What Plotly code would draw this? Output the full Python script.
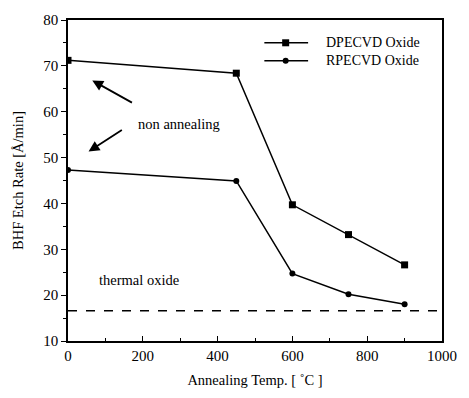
import plotly.graph_objects as go

# Annealing temperatures (°C) and BHF etch rates (Å/min)
temps = [0, 450, 600, 750, 900]
dpecvd_rate = [71.2, 68.4, 39.7, 33.2, 26.6]
rpecvd_rate = [47.3, 44.9, 24.7, 20.2, 18.0]
thermal_oxide_rate = 16.6

series_names = ["DPECVD Oxide", "RPECVD Oxide"]
x_ticks = [0, 200, 400, 600, 800, 1000]
y_ticks = [10, 20, 30, 40, 50, 60, 70, 80]

FONT = "Liberation Serif"
TXT = 14.5

fig = go.Figure()
fig.add_trace(go.Scatter(
    x=temps, y=dpecvd_rate, mode="lines+markers", name=series_names[0],
    line=dict(color="black", width=1.5),
    marker=dict(symbol="square", size=7, color="black"),
))
fig.add_trace(go.Scatter(
    x=temps, y=rpecvd_rate, mode="lines+markers", name=series_names[1],
    line=dict(color="black", width=1.5),
    marker=dict(symbol="circle", size=6, color="black"),
))
# thermal oxide reference level
fig.add_trace(go.Scatter(
    x=[0, 1000], y=[thermal_oxide_rate, thermal_oxide_rate], mode="lines",
    line=dict(color="black", width=1.3, dash="dash"),
))

fig.add_annotation(x=296, y=57.3, text="non annealing", showarrow=False,
                   font=dict(family=FONT, size=TXT, color="black"))
fig.add_annotation(x=65, y=66.8, ax=175, ay=61.8, axref="x", ayref="y",
                   text="", showarrow=True, arrowhead=2, arrowsize=1.2,
                   arrowwidth=1.8, arrowcolor="black")
fig.add_annotation(x=55, y=51.3, ax=148, ay=56.2, axref="x", ayref="y",
                   text="", showarrow=True, arrowhead=2, arrowsize=1.2,
                   arrowwidth=1.8, arrowcolor="black")
fig.add_annotation(x=190, y=23.3, text="thermal oxide", showarrow=False,
                   font=dict(family=FONT, size=TXT, color="black"))

# compact legend key: line sample with marker, then label
legend_rows_y = [0.929, 0.873]
legend_symbols = ["square", "circle"]
for name, ly, sym in zip(series_names, legend_rows_y, legend_symbols):
    fig.add_shape(type="line", xref="paper", yref="paper",
                  x0=0.525, x1=0.642, y0=ly, y1=ly,
                  line=dict(color="black", width=1.5))
    half = 3.5 if sym == "square" else 3
    fig.add_shape(type="rect" if sym == "square" else "circle",
                  xref="paper", yref="paper",
                  xsizemode="pixel", ysizemode="pixel",
                  xanchor=0.582, yanchor=ly,
                  x0=-half, x1=half, y0=-half, y1=half,
                  fillcolor="black", line=dict(color="black", width=0))
    fig.add_annotation(x=0.684, y=ly, xref="paper", yref="paper",
                       xanchor="left", yanchor="middle", text=name,
                       showarrow=False,
                       font=dict(family=FONT, size=14, color="black"))

fig.update_layout(
    width=469, height=398,
    margin=dict(l=68, r=16, t=14, b=57),
    paper_bgcolor="white", plot_bgcolor="white",
    font=dict(family=FONT, size=TXT, color="black"),
    showlegend=False,
    xaxis=dict(
        range=[0, 1000], tickvals=x_ticks, showgrid=False, zeroline=False,
        showline=True, linecolor="black", linewidth=1.5, mirror=True,
        ticks="inside", ticklen=5, tickcolor="black",
        minor=dict(dtick=100, ticks="inside", ticklen=3, tickcolor="black"),
        title=dict(text="Annealing Temp. [ ˚C ]", font=dict(size=TXT), standoff=12),
        tickfont=dict(size=15),
    ),
    yaxis=dict(
        range=[10, 80], tickvals=y_ticks, showgrid=False, zeroline=False,
        showline=True, linecolor="black", linewidth=1.5, mirror=True,
        ticks="outside", ticklen=5, tickcolor="black",
        minor=dict(dtick=5, ticks="outside", ticklen=3, tickcolor="black"),
        title=dict(text="BHF Etch Rate [Å/min]", font=dict(size=TXT), standoff=16),
        tickfont=dict(size=15),
    ),
)

fig.write_html("out.html")
